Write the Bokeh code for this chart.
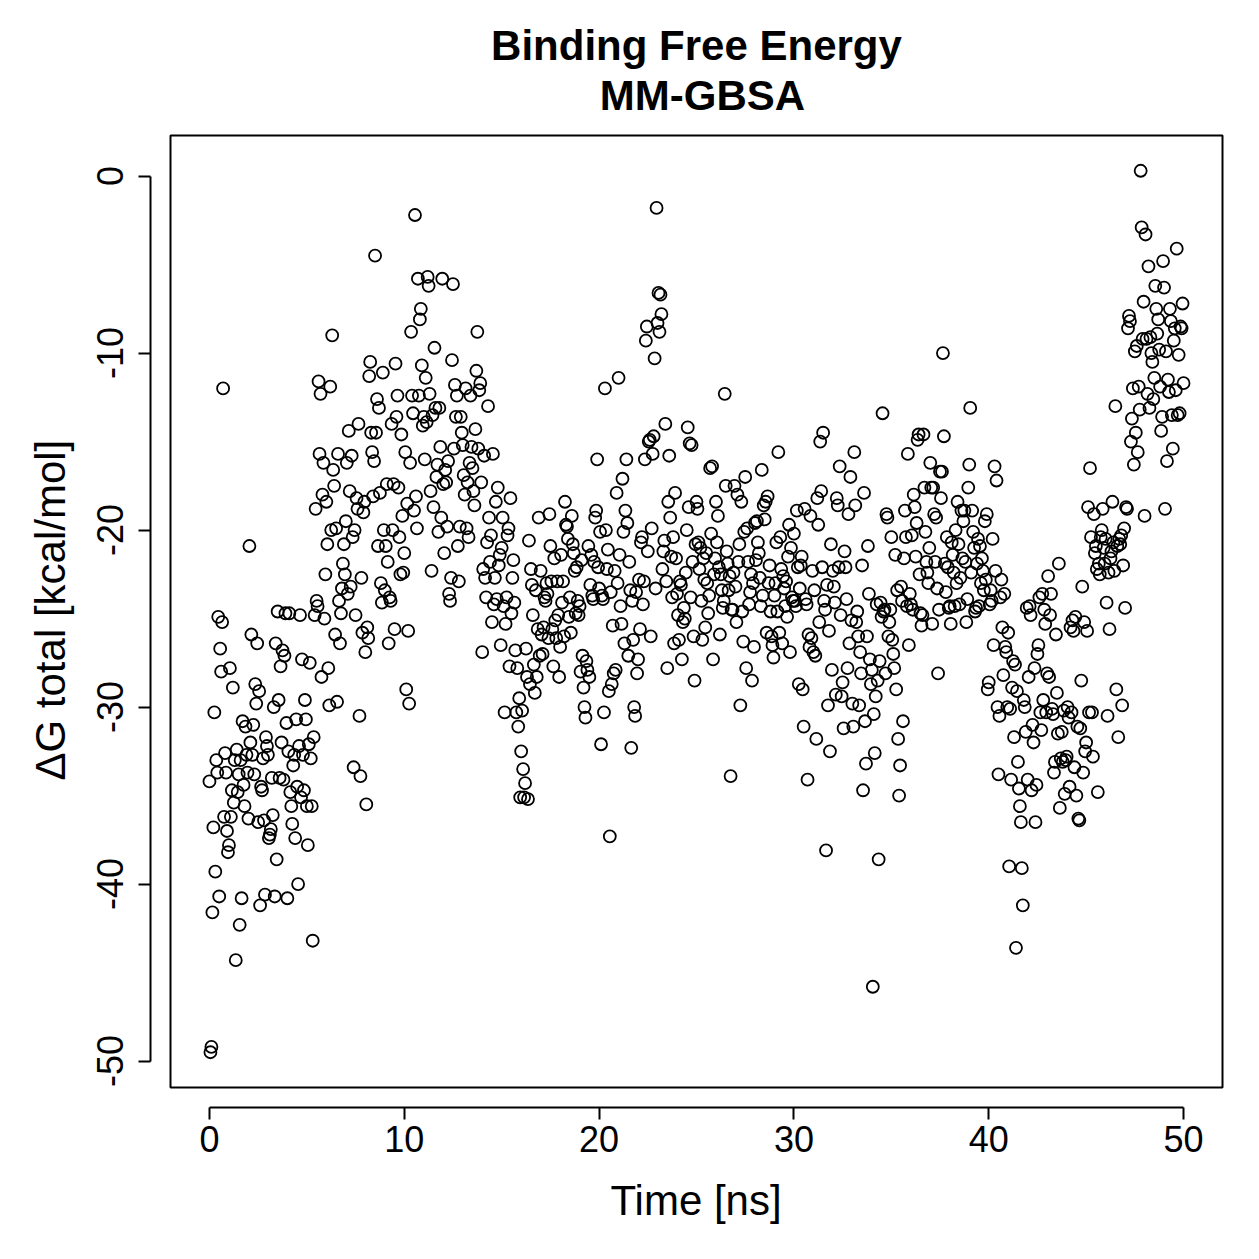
import numpy as np
from bokeh.plotting import figure
from bokeh.models import LinearAxis, FixedTicker, BoxAnnotation, Title, Range1d
from bokeh.embed import file_html
from bokeh.resources import INLINE

# MM-GBSA total binding free energy (kcal/mol), one frame every 0.05 ns
dg_00_10 = [
    -34.2, -49.5, -49.2, -41.6, -36.8, -30.3, -39.3, -33.0, -33.7, -24.9, -40.7, -26.7, -28.0, -25.2, -12.0, -36.2, -32.6, -33.7, -37.0, -38.2,
    -37.8, -27.8, -36.2, -34.7, -28.9, -35.4, -33.0, -44.3, -32.4, -34.8, -33.8, -42.3, -33.0, -40.8, -30.8, -34.4, -35.6, -31.1, -32.7, -33.7,
    -36.3, -20.9, -32.0, -25.9, -32.7, -31.0, -33.8, -28.7, -29.8, -26.4, -36.5, -29.1, -41.2, -34.5, -34.7, -32.9, -36.4, -40.6, -31.7, -32.2,
    -32.7, -37.4, -37.2, -36.9, -34.0, -36.1, -30.0, -40.7, -26.4, -38.6, -24.6, -29.6, -34.0, -27.7, -32.0, -26.8, -34.1, -27.1, -24.7, -30.9,
    -40.8, -32.5, -24.7, -34.8, -35.6, -36.6, -33.3, -32.7, -37.4, -30.7, -34.5, -40.0, -32.2, -24.8, -35.1, -27.3, -32.7, -34.7, -29.6, -30.7,
    -35.6, -37.8, -32.1, -27.5, -32.9, -35.6, -43.2, -31.7, -24.8, -18.8, -24.0, -24.3, -11.6, -15.7, -12.3, -28.3, -18.0, -16.2, -25.0, -22.5,
    -18.4, -20.8, -27.8, -29.9, -11.9, -20.0, -9.0, -16.6, -17.5, -25.9, -19.9, -29.7, -15.7, -24.0, -26.4, -24.7, -23.3, -21.9, -20.8, -22.5,
    -19.5, -16.2, -23.6, -14.4, -17.8, -23.2, -15.8, -20.4, -33.4, -20.0, -24.8, -18.2, -18.8, -14.0, -30.5, -33.9, -22.7, -25.8, -19.0, -18.4,
    -26.9, -35.5, -25.5, -26.1, -11.3, -10.5, -14.5, -15.6, -18.1, -16.1, -4.5, -14.5, -12.6, -20.9, -13.1, -17.9, -23.0, -24.1, -11.1, -20.0,
    -23.4, -20.9, -17.4, -21.8, -26.4, -23.8, -24.0, -14.0, -20.0, -17.4, -25.6, -10.6, -13.6, -12.4, -17.6, -20.4, -22.5, -14.6, -19.2, -22.4,
]
dg_10_20 = [
    -21.3, -15.6, -29.0, -18.5, -25.7, -29.8, -16.2, -8.8, -12.4, -13.4, -18.9, -2.2, -18.1, -19.9, -5.8, -12.4, -8.1, -7.5, -10.7, -14.1,
    -13.6, -16.0, -11.4, -13.9, -5.7, -6.2, -12.3, -17.8, -22.3, -13.5, -18.7, -9.7, -13.1, -17.0, -16.3, -20.1, -13.1, -15.3, -19.3, -5.8,
    -17.4, -21.3, -16.6, -17.3, -19.8, -16.1, -23.6, -24.0, -22.7, -10.4, -6.1, -15.4, -11.8, -13.6, -12.4, -20.9, -22.9, -19.8, -13.6, -14.5,
    -15.2, -16.9, -18.0, -12.0, -19.9, -17.3, -20.4, -16.2, -12.4, -15.3, -16.5, -17.8, -18.6, -14.3, -11.0, -8.8, -15.4, -12.1, -11.7, -17.3,
    -26.9, -22.2, -15.8, -22.7, -23.8, -20.7, -13.0, -19.3, -21.8, -20.3, -25.2, -15.7, -24.2, -22.7, -18.4, -23.9, -17.6, -22.0, -21.4, -26.5,
    -21.0, -19.3, -24.3, -30.3, -25.3, -23.8, -20.3, -19.9, -27.7, -18.2, -24.7, -22.7, -21.7, -24.1, -26.8, -30.3, -27.8, -31.1, -29.5, -35.1,
    -32.5, -30.2, -33.5, -35.1, -34.3, -26.7, -28.3, -35.2, -20.6, -28.7, -22.2, -23.1, -24.8, -27.6, -29.2, -23.4, -28.3, -25.6, -19.3, -27.1,
    -22.3, -25.9, -27.0, -25.5, -23.8, -24.0, -23.0, -23.6, -26.1, -19.1, -20.9, -22.9, -25.6, -27.7, -21.6, -25.1, -26.1, -22.9, -24.8, -28.3,
    -26.6, -21.4, -24.1, -22.9, -26.0, -18.4, -19.7, -19.8, -20.5, -24.9, -23.8, -25.8, -19.2, -20.8, -21.3, -22.3, -24.7, -22.1, -24.0, -24.8,
    -24.3, -28.0, -21.7, -27.1, -28.9, -30.0, -30.6, -27.4, -27.9, -20.9, -28.3, -23.1, -21.4, -23.7, -23.9, -21.8, -19.3, -18.9, -16.0, -22.1,
]
dg_20_30 = [
    -23.3, -20.1, -32.1, -23.7, -23.9, -30.3, -12.0, -20.0, -22.2, -21.1, -29.1, -37.3, -23.5, -28.7, -25.4, -28.1, -22.3, -27.9, -17.9, -23.0,
    -11.4, -21.4, -24.3, -25.3, -17.1, -20.1, -26.4, -18.9, -16.0, -19.6, -27.1, -21.8, -23.4, -32.3, -24.0, -26.2, -30.0, -30.5, -23.5, -28.1,
    -27.3, -22.8, -25.6, -20.7, -20.4, -24.2, -22.9, -16.0, -9.3, -8.5, -21.2, -15.0, -14.9, -26.0, -19.9, -15.7, -14.7, -10.3, -23.3, -1.8,
    -8.3, -6.6, -8.8, -6.7, -7.8, -22.2, -21.2, -20.6, -14.0, -22.9, -27.8, -18.4, -15.8, -19.3, -21.5, -23.8, -20.4, -26.4, -17.9, -21.6,
    -23.6, -24.8, -26.2, -22.9, -23.1, -27.3, -25.2, -24.4, -25.0, -22.4, -20.0, -14.2, -18.7, -15.1, -23.8, -15.2, -21.8, -26.0, -28.5, -20.8,
    -18.4, -18.8, -20.7, -22.2, -21.0, -24.0, -26.2, -21.6, -22.8, -25.5, -21.3, -23.0, -24.7, -23.7, -16.5, -20.2, -16.4, -27.3, -22.5, -21.6,
    -18.4, -20.7, -19.2, -22.1, -25.9, -22.5, -23.4, -24.4, -24.0, -12.3, -17.5, -21.2, -21.9, -23.4, -22.6, -33.9, -24.5, -24.5, -22.4, -17.5,
    -23.2, -25.2, -18.0, -21.8, -20.8, -29.9, -18.4, -24.6, -26.3, -20.1, -17.0, -27.8, -19.9, -21.8, -24.2, -23.5, -22.5, -28.5, -23.0, -26.6,
    -19.6, -21.7, -19.5, -20.7, -21.3, -22.7, -24.3, -16.6, -23.7, -18.6, -19.4, -18.4, -25.8, -18.1, -23.0, -22.0, -24.6, -26.0, -26.5, -27.2,
    -23.7, -23.0, -20.7, -24.6, -15.6, -25.8, -20.4, -22.2, -26.4, -22.6, -23.3, -24.3, -22.9, -24.9, -21.5, -19.7, -26.9, -21.0, -23.8, -24.0,
]
dg_30_40 = [
    -20.2, -24.0, -24.3, -18.9, -22.1, -28.7, -23.3, -22.0, -21.5, -29.0, -31.1, -18.8, -23.9, -24.2, -34.1, -25.9, -26.6, -19.2, -26.1, -22.3,
    -26.9, -23.4, -27.1, -31.8, -18.2, -19.7, -25.2, -15.0, -17.8, -22.1, -14.5, -24.0, -24.5, -38.1, -23.1, -29.9, -25.7, -32.5, -20.8, -27.9,
    -22.3, -23.2, -24.1, -29.3, -18.2, -18.6, -22.1, -16.4, -24.8, -29.4, -28.6, -31.2, -21.2, -22.1, -23.9, -27.8, -19.1, -26.4, -17.0, -25.1,
    -29.8, -31.1, -15.6, -18.6, -25.2, -24.6, -26.0, -29.9, -26.9, -28.1, -22.0, -34.7, -17.9, -30.8, -33.2, -26.0, -20.9, -23.6, -27.3, -28.7,
    -27.9, -45.8, -30.4, -32.6, -29.4, -24.2, -28.5, -38.6, -27.4, -24.1, -24.9, -13.4, -24.6, -24.5, -28.1, -19.1, -19.3, -26.0, -25.2, -24.5,
    -20.4, -26.2, -27.0, -27.8, -21.4, -29.0, -23.4, -31.8, -35.0, -33.3, -23.2, -24.0, -30.8, -21.6, -18.9, -20.4, -24.3, -15.7, -26.5, -23.6,
    -24.2, -20.3, -24.5, -18.0, -18.7, -21.5, -19.6, -14.9, -14.6, -22.5, -24.7, -25.4, -24.8, -14.6, -17.6, -20.1, -21.8, -22.4, -23.0, -21.0,
    -16.2, -17.6, -25.3, -17.6, -19.1, -21.8, -19.3, -23.3, -28.1, -24.5, -16.7, -18.2, -16.7, -10.0, -14.7, -21.9, -23.5, -20.4, -22.1, -24.4,
    -24.3, -25.3, -20.7, -21.4, -22.4, -24.3, -20.0, -23.0, -18.4, -20.8, -24.2, -22.7, -18.9, -21.6, -19.5, -18.9, -21.8, -25.2, -23.9, -17.6,
    -16.3, -13.1, -22.4, -18.9, -20.1, -21.0, -24.6, -24.4, -21.9, -20.5, -24.3, -20.9, -23.0, -21.6, -22.3, -23.4, -19.5, -22.8, -19.1, -29.0,
]
dg_40_50 = [
    -28.6, -24.2, -23.4, -24.0, -20.5, -26.5, -16.4, -22.3, -17.2, -30.0, -33.8, -30.5, -23.8, -22.8, -25.5, -28.2, -23.6, -26.6, -26.9, -30.0,
    -25.8, -39.0, -30.1, -34.1, -28.9, -27.4, -31.7, -27.6, -43.6, -29.1, -33.1, -34.6, -35.6, -36.5, -39.1, -41.2, -29.6, -30.0, -31.4, -24.4,
    -34.1, -28.3, -24.3, -24.8, -34.7, -31.0, -32.0, -27.8, -36.5, -34.4, -27.0, -26.5, -23.8, -30.3, -31.3, -23.6, -29.6, -24.5, -25.3, -30.3,
    -28.1, -22.6, -28.3, -24.8, -23.6, -30.1, -30.4, -33.7, -33.1, -25.9, -29.2, -31.5, -21.9, -35.7, -32.9, -31.4, -33.1, -30.2, -34.9, -33.0,
    -32.8, -30.0, -30.6, -34.5, -25.5, -30.3, -25.1, -25.7, -33.4, -24.9, -35.0, -31.1, -36.3, -36.4, -31.2, -28.5, -23.2, -33.7, -25.2, -32.5,
    -32.0, -25.7, -18.7, -30.3, -16.5, -20.4, -30.3, -32.8, -19.1, -21.3, -20.9, -22.2, -34.8, -21.9, -22.5, -20.4, -20.0, -18.8, -21.0, -21.9,
    -20.5, -24.1, -30.5, -22.4, -25.6, -21.6, -21.2, -18.4, -20.7, -22.3, -13.0, -29.0, -20.9, -31.7, -20.5, -20.8, -20.3, -29.9, -22.0, -19.9,
    -24.4, -18.7, -18.8, -8.6, -7.9, -8.2, -15.0, -13.7, -12.0, -16.3, -9.9, -14.5, -9.6, -15.6, -11.9, -13.2, 0.3, -2.9, -9.2, -7.1,
    -19.2, -3.3, -9.2, -12.3, -5.1, -13.1, -9.1, -10.0, -10.5, -12.6, -11.4, -6.2, -7.5, -8.9, -8.1, -9.8, -11.9, -14.4, -13.6, -4.8,
    -6.3, -18.8, -9.9, -16.1, -11.5, -12.2, -7.5, -8.2, -13.5, -15.4, -9.3, -8.6, -12.1, -4.1, -13.5, -10.1, -13.4, -8.5, -8.6, -7.2,
    -11.7,
]
time_step_ns = 0.05

x_ticks = [0, 10, 20, 30, 40, 50]
y_ticks = [-50, -40, -30, -20, -10, 0]

title_line1 = "Binding Free Energy"
title_line2 = "MM-GBSA"
x_label = "Time [ns]"
y_label = "\u0394G total [kcal/mol]"

dg = np.array(dg_00_10 + dg_10_20 + dg_20_30 + dg_30_40 + dg_40_50)
time = np.arange(len(dg)) * time_step_ns


def padded(lo, hi, frac=0.04):
    d = (hi - lo) * frac
    return lo - d, hi + d


xlo, xhi = padded(time.min(), time.max())
ylo, yhi = padded(dg.min(), dg.max())

W = H = 1259
border_left, border_right, border_top, border_bottom = 150, 33, 131, 152
gap = 20   # distance between the box and the detached axes
pad = 4    # room so the box edge is not clipped at the top/right
box_w = W - border_left - border_right - gap - pad
box_h = H - border_top - border_bottom - gap - pad
ux = (xhi - xlo) / box_w
uy = (yhi - ylo) / box_h

FONT = "Liberation Sans"
TITLE_PX = 42
LABEL_PX = 42

p = figure(
    width=W, height=H,
    x_range=Range1d(xlo - gap * ux, xhi + pad * ux),
    y_range=Range1d(ylo - gap * uy, yhi + pad * uy),
    x_axis_location=None, y_axis_location=None,
    toolbar_location=None, output_backend="svg",
    min_border_left=border_left, min_border_right=border_right,
    min_border_top=border_top, min_border_bottom=border_bottom,
)
p.xgrid.visible = False
p.ygrid.visible = False
p.outline_line_color = None
p.background_fill_color = "white"
p.border_fill_color = "white"

# plot box
p.add_layout(BoxAnnotation(left=xlo, right=xhi, bottom=ylo, top=yhi,
                           fill_alpha=0, line_color="black", line_alpha=1.0,
                           line_width=2))


def style_axis(ax, ticks):
    ax.ticker = FixedTicker(ticks=ticks)
    ax.bounds = (ticks[0], ticks[-1])
    ax.major_label_overrides = {t: str(t) for t in ticks}
    ax.axis_line_color = "black"
    ax.axis_line_width = 2
    ax.major_tick_line_color = "black"
    ax.major_tick_line_width = 2
    ax.major_tick_out = 12
    ax.major_tick_in = 0
    ax.minor_tick_out = 0
    ax.minor_tick_in = 0
    ax.major_label_text_font = FONT
    ax.major_label_text_font_size = "36px"
    ax.major_label_text_color = "black"


xaxis = LinearAxis()
style_axis(xaxis, x_ticks)
xaxis.major_label_standoff = 6
p.add_layout(xaxis, "below")

yaxis = LinearAxis()
style_axis(yaxis, y_ticks)
yaxis.major_label_orientation = "vertical"
yaxis.major_label_standoff = 15
p.add_layout(yaxis, "left")

p.scatter(time, dg, marker="circle", size=12, fill_color=None,
          line_color="black", line_width=1.8)

# texts are centred on the box, not on the (wider) frame
box_cx = gap + box_w / 2          # from frame left
box_cy = pad + box_h / 2          # from frame top
frame_h = box_h + gap + pad
em = {title_line1: 9.78, title_line2: 4.89, x_label: 4.0, y_label: 8.05}

for txt, standoff, nudge in ((title_line2, 25, 6), (title_line1, -22, 0)):
    off = box_cx - em[txt] * TITLE_PX / 2 + nudge
    p.add_layout(Title(text=txt, align="left", offset=off, text_font=FONT,
                       text_font_size=f"{TITLE_PX}px", text_font_style="bold",
                       text_color="black", standoff=standoff), "above")

p.add_layout(Title(text=x_label, align="left",
                   offset=box_cx - em[x_label] * LABEL_PX / 2 - 2,
                   text_font=FONT, text_font_size=f"{LABEL_PX}px",
                   text_font_style="normal", text_color="black",
                   standoff=40), "below")

p.add_layout(Title(text=y_label, align="left",
                   offset=(frame_h - box_cy) - em[y_label] * LABEL_PX / 2,
                   text_font=FONT, text_font_size=f"{LABEL_PX}px",
                   text_font_style="normal", text_color="black",
                   standoff=42), "left")

open("out.html", "w").write(file_html(p, INLINE))
